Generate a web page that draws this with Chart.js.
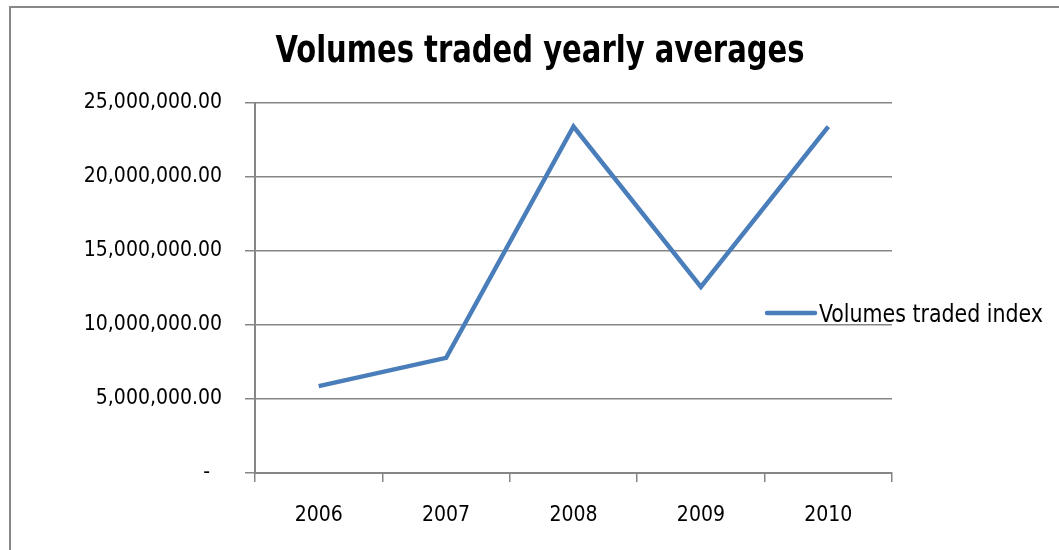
<!DOCTYPE html>
<html>
<head>
<meta charset="utf-8">
<script src="https://cdn.jsdelivr.net/npm/chart.js@4.4.1/dist/chart.umd.min.js"></script>
<style>
  html, body { margin: 0; padding: 0; background: #fff; }
  #wrap { position: relative; width: 1059px; height: 550px; }
</style>
</head>
<body>
<div id="wrap"><canvas id="myChart" width="1059" height="550"></canvas></div>
<script>
const years = ['2006', '2007', '2008', '2009', '2010'];
const volumes = [5870000, 7780000, 23410000, 12580000, 23410000];
const seriesName = 'Volumes traded index';
const chartTitle = 'Volumes traded yearly averages';
const yTicks = [0, 5000000, 10000000, 15000000, 20000000, 25000000];

const FONT = '"DejaVu Sans Condensed", "DejaVu Sans", sans-serif';
const GRID = 'rgb(134, 134, 134)';
const BLUE = 'rgb(74, 126, 187)';

// draws text squeezed horizontally to a given width (narrow face look)
function narrowText(c, text, x, y, font, width, align) {
    c.save();
    c.font = font;
    c.textBaseline = 'alphabetic';
    const w = c.measureText(text).width;
    const sx = width / w;
    const left = align === 'center' ? x - width / 2 : x;
    c.translate(left, y);
    c.scale(sx, 1);
    c.textAlign = 'left';
    c.fillText(text, 0, 0);
    c.restore();
}

// outer frame, title and the legend drawn over the plot
const framePlugin = {
    id: 'frame',
    beforeDraw(chart) {
        const c = chart.ctx;
        c.save();
        c.fillStyle = '#fff';
        c.fillRect(0, 0, chart.width, chart.height);
        c.strokeStyle = 'rgb(136, 136, 136)';
        c.lineWidth = 2;
        c.beginPath();
        c.moveTo(10, chart.height);
        c.lineTo(10, 7);
        c.lineTo(chart.width, 7);
        c.stroke();
        c.fillStyle = '#000';
        narrowText(c, chartTitle, 540, 62, 'bold 38px ' + FONT, 529, 'center');
        c.restore();
    },
    afterDraw(chart) {
        const c = chart.ctx;
        const ds = chart.data.datasets[0];
        c.save();
        c.strokeStyle = ds.borderColor;
        c.lineWidth = ds.borderWidth;
        c.lineCap = 'round';
        c.beginPath();
        c.moveTo(767, 313);
        c.lineTo(815, 313);
        c.stroke();
        c.fillStyle = '#000';
        narrowText(c, ds.label, 819, 322, '25px ' + FONT, 224, 'left');
        c.restore();
    }
};

const ctx = document.getElementById('myChart').getContext('2d');

const myChart = new Chart(ctx, {
    type: 'line',
    data: {
        labels: years,
        datasets: [{
            label: seriesName,
            data: volumes,
            borderColor: BLUE,
            borderWidth: 4.5,
            pointRadius: 0,
            tension: 0,
            fill: false
        }]
    },
    plugins: [framePlugin],
    options: {
        responsive: false,
        animation: false,
        layout: {
            padding: { top: 103, right: 167, bottom: 0, left: 0 }
        },
        plugins: {
            legend: { display: false },
            tooltip: { enabled: false },
            title: { display: false }
        },
        scales: {
            x: {
                offset: true,
                grid: {
                    offset: true,
                    drawOnChartArea: false,
                    drawTicks: true,
                    tickLength: 9,
                    color: GRID,
                    lineWidth: 1.5
                },
                border: { color: GRID, width: 2 },
                ticks: {
                    color: '#000',
                    font: { family: FONT, size: 21 },
                    padding: 21,
                    maxRotation: 0
                },
                afterFit(scale) { scale.height = 77; }
            },
            y: {
                min: 0,
                max: 25000000,
                afterBuildTicks(scale) {
                    scale.ticks = yTicks.map(v => ({ value: v }));
                },
                grid: {
                    color: GRID,
                    lineWidth: 1.5,
                    drawTicks: true,
                    tickLength: 10
                },
                border: { color: GRID, width: 2 },
                ticks: {
                    color: '#000',
                    font: { family: FONT, size: 21 },
                    padding: 23,
                    callback(value) {
                        if (value === 0) return '-  ';
                        return value.toLocaleString('en-US', { minimumFractionDigits: 2, maximumFractionDigits: 2 });
                    }
                },
                afterFit(scale) { scale.width = 255; }
            }
        }
    }
});
</script>
</body>
</html>
